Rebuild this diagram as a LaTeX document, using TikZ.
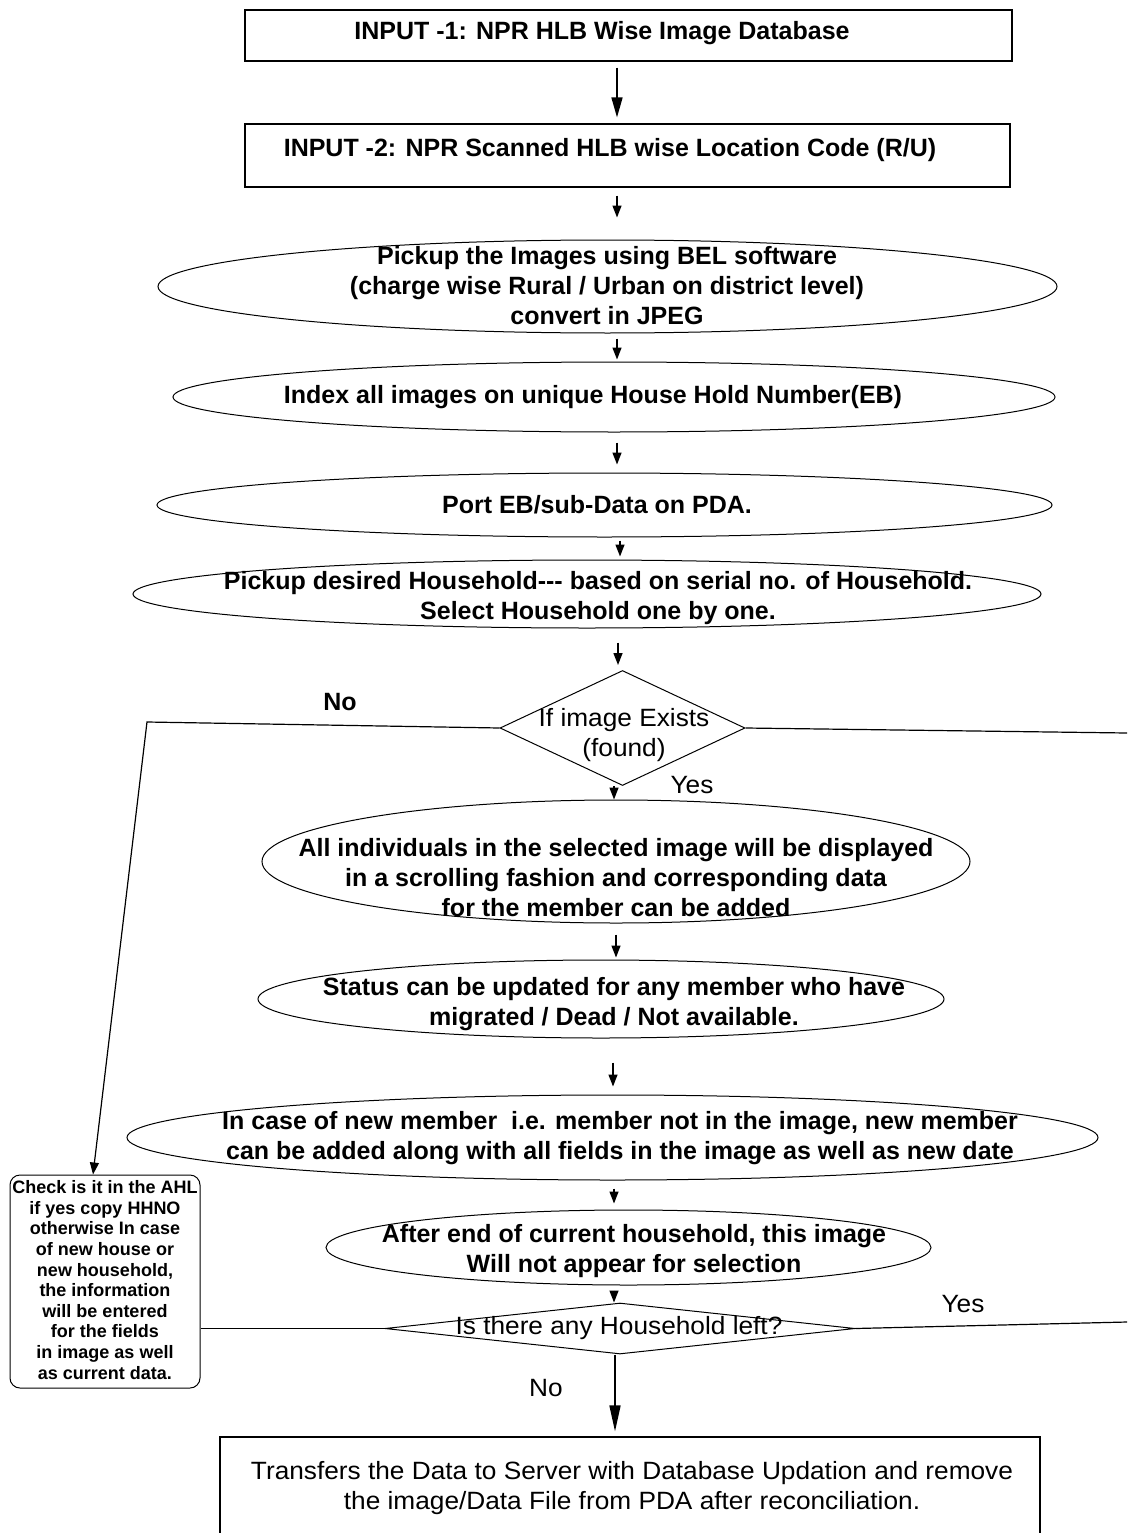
\documentclass[tikz,border=0pt]{standalone}
\usepackage{fontspec}
\setmainfont{Liberation Sans}
\newfontfamily\narrowfont[FakeStretch=1.05]{Liberation Sans}
\usetikzlibrary{shapes.geometric,arrows.meta,calc}
\begin{document}
\begin{tikzpicture}[x=1pt,y=-1pt,
  box/.style={draw,line width=1.2pt,rectangle,inner sep=0pt},
  ell/.style={draw,ellipse,line width=1pt,inner sep=0pt},
  dia/.style={draw,diamond,line width=1pt,inner sep=0pt},
  rbox/.style={draw,line width=1pt,rectangle,rounded corners=10pt,inner sep=0pt},
  arr/.style={line width=1.4pt,-{Triangle[width=9pt,length=12pt]}},
  ln/.style={line width=1.2pt},
  main/.style={font=\fontsize{25}{30}\selectfont\bfseries,align=center,inner sep=0pt},
  nar/.style={font=\fontsize{25}{30}\narrowfont,align=center,inner sep=0pt},
  small/.style={font=\fontsize{18}{20.6}\selectfont\bfseries,align=center,inner sep=0pt}]
\useasboundingbox (0,0) rectangle (1127,1533);
\fill[white] (0,0) rectangle (1127,1533);
% shapes
\node[box,minimum width=767pt,minimum height=51pt] (b1) at (628.5,35.5) {};
\node[box,minimum width=765pt,minimum height=63pt] (b2) at (627.5,155.5) {};
\node[ell,minimum width=899pt,minimum height=93pt] (e1) at (607.5,286.5) {};
\node[ell,minimum width=882pt,minimum height=70pt] (e2) at (614,397) {};
\node[ell,minimum width=895pt,minimum height=64pt] (e3) at (604.5,505) {};
\node[ell,minimum width=908pt,minimum height=68pt] (e4) at (587,594) {};
\node[dia,minimum width=245pt,minimum height=115pt] (d1) at (622.5,728) {};
\node[ell,minimum width=708pt,minimum height=123pt] (e5) at (616,861.5) {};
\node[ell,minimum width=686pt,minimum height=78pt] (e6) at (601,999) {};
\node[ell,minimum width=971pt,minimum height=85pt] (e7) at (612.5,1137.5) {};
\node[ell,minimum width=605pt,minimum height=75pt] (e8) at (628.5,1247.5) {};
\node[dia,minimum width=470pt,minimum height=51pt] (d2) at (620,1328.5) {};
\node[rbox,minimum width=190pt,minimum height=213pt] (lb) at (105,1281.5) {};
\node[box,minimum width=820pt,minimum height=104pt] (b3) at (630,1489) {};
% texts
\node[main] (t1) at (602,33) {INPUT -1: NPR HLB Wise Image Database};
\node[main] (t2) at (610,150) {INPUT -2: NPR Scanned HLB wise Location Code (R/U)};
\node[main] (t3) at (607,286) {Pickup the Images using BEL software\\(charge wise Rural / Urban on district level)\\convert in JPEG};
\node[main] (t4) at (593,397) {Index all images on unique House Hold Number(EB)};
\node[main] (t5) at (597,505) {Port EB/sub-Data on PDA.};
\node[main] (t6) at (598,598) {Pickup desired Household-{}-{}- based on serial no. of Household.\\Select Household one by one.};
\node[nar] (t7) at (624,735) {If image Exists\\(found)};
\node[main] (t8) at (616,878) {All individuals in the selected image will be displayed\\in a scrolling fashion and corresponding data\\for the member can be added};
\node[main] (t9) at (614,1004) {Status can be updated for any member who have\\migrated / Dead / Not available.};
\node[main] (t10) at (620,1138) {In case of new member\ \ i.e. member not in the image, new member\\can be added along with all fields in the image as well as new date};
\node[main] (t11) at (634,1251) {After end of current household, this image\\Will not appear for selection};
\node[nar] (t12) at (619,1328) {Is there any Household left?};
\node[small] (t13) at (105,1280) {Check is it in the AHL\\if yes copy HHNO\\otherwise In case\\of new house or\\new household,\\the information\\will be entered\\for the fields\\in image as well\\as current data.};
\node[nar] (t14) at (632,1488) {Transfers the Data to Server with Database Updation and remove\\the image/Data File from PDA after reconciliation.};
% labels
\node[main] (no1) at (340,702) {No};
\node[nar] (yes1) at (692,785) {Yes};
\node[nar] (yes2) at (963,1304) {Yes};
\node[nar] (no2) at (546,1388) {No};
% coordinates
\coordinate (nocorner) at (147,722);
\coordinate (rightA) at (1127,733);
\coordinate (rightB) at (1127,1322);
% connectors
\draw[line width=1.6pt,-{Triangle[width=11pt,length=20pt]}] ($(b1.south)+(-11.5,6)$) -- ($(b2.north)+(-10.5,-6)$);
\draw[arr] ($(b2.south)+(-10.5,8)$) -- ($(e1.north)+(9.5,-22)$);
\draw[arr] ($(e1.south)+(9.5,5)$) -- ($(e2.north)+(3,-2)$);
\draw[arr] ($(e2.south)+(3,10)$) -- ($(e3.north)+(12.5,-8)$);
\draw[arr] ($(e3.south)+(15.5,3)$) -- ($(e4.north)+(33,-3)$);
\draw[arr] ($(e4.south)+(31,14)$) -- ($(d1.north)+(-4.5,-5)$);
\draw[arr] ($(d1.south)+(-8.5,0)$) -- ($(e5.north)+(-2,0)$);
\draw[arr] ($(e5.south)+(0,11)$) -- ($(e6.north)+(15,-2)$);
\draw[arr] ($(e6.south)+(12,24)$) -- ($(e7.north)+(0.5,-8)$);
\draw[arr] ($(e7.south)+(1.5,8)$) -- ($(e8.north)+(-14.5,-6)$);
\draw[arr] ($(e8.south)+(-14.5,5)$) -- ($(d2.north)+(-6,0)$);
\draw[line width=1.6pt,-{Triangle[width=11pt,length=26pt]}] ($(d2.south)+(-5,0)$) -- ($(b3.north)+(-15,-5)$);
\draw[ln,-{Triangle[width=9pt,length=12pt]}] (d1.west) -- (nocorner) -- ($(lb.north)+(-12,0)$);
\draw[ln] (d1.east) -- (rightA);
\draw[ln] (d2.east) -- (rightB);
\draw[ln] (d2.west) -- (d2.west -| lb.east);
\end{tikzpicture}
\end{document}
